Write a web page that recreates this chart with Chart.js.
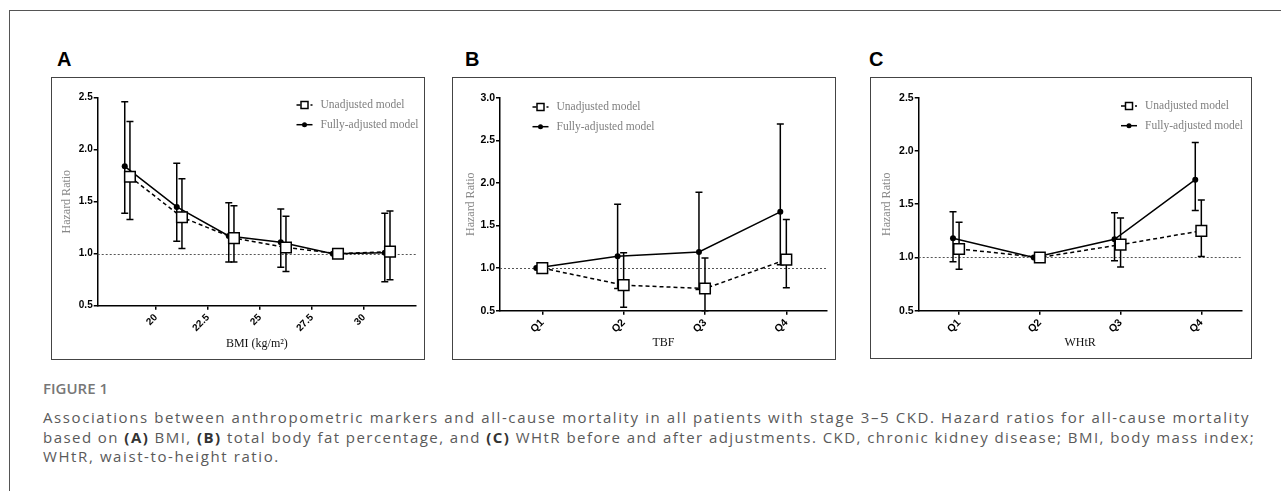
<!DOCTYPE html>
<html>
<head>
<meta charset="utf-8">
<script src="https://cdn.jsdelivr.net/npm/chart.js@4.4.1/dist/chart.umd.min.js"></script>
<style>
  body { margin: 0; background: #fff; }
  #page { position: relative; width: 1281px; height: 491px; overflow: hidden; background: #fff; }
  #frame { position: absolute; left: 9px; top: 10px; width: 1300px; height: 500px;
           border-top: 1.5px solid #555; border-left: 1.5px solid #555; }
  canvas { position: absolute; }
  .box { position: absolute; border: 1px solid #444; box-sizing: border-box; pointer-events: none; }
  .lbl { position: absolute; font: bold 20px "Liberation Sans", Arial, sans-serif; color: #000; line-height: 20px; }
  #figno { position: absolute; left: 43px; top: 379px; font: 600 15px "Open Sans", sans-serif; color: #777; line-height: 18px; }
  #caption { position: absolute; left: 43px; top: 408px; font: 15px "Open Sans", sans-serif; color: #5a5a5a;
             line-height: 19.5px; white-space: nowrap; }
  #caption span { display: block; }
  #caption b { color: #333; font-weight: 700; }
</style>
</head>
<body>
<div id="page">
  <div id="frame"></div>

  <div class="lbl" style="left:57px; top:49px;">A</div>
  <div class="lbl" style="left:465px; top:49px;">B</div>
  <div class="lbl" style="left:869px; top:49px;">C</div>

  <canvas id="chartA" width="374" height="283" style="left:51px; top:77px;"></canvas>
  <canvas id="chartB" width="384" height="283" style="left:452px; top:77px;"></canvas>
  <canvas id="chartC" width="382" height="282" style="left:870px; top:77px;"></canvas>
  <div class="box" style="left:51px; top:77px; width:374px; height:283px;"></div>
  <div class="box" style="left:452px; top:77px; width:384px; height:283px;"></div>
  <div class="box" style="left:870px; top:77px; width:382px; height:282px;"></div>

  <div id="figno">FIGURE 1</div>
  <div id="caption"><span data-w="1207">Associations between anthropometric markers and all-cause mortality in all patients with stage 3–5 CKD. Hazard ratios for all-cause mortality</span><span data-w="1212">based on <b>(A)</b> BMI, <b>(B)</b> total body fat percentage, and <b>(C)</b> WHtR before and after adjustments. CKD, chronic kidney disease; BMI, body mass index;</span><span>WHtR, waist-to-height ratio.</span></div>
</div>

<script>
// Panel A - BMI
var bmiGroups = [18.5, 21, 23.5, 26, 28.5, 31];
var bmiTicks = [20, 22.5, 25, 27.5, 30];
var bmiUnadj = [1.74, 1.35, 1.15, 1.06, 1.00, 1.02];
var bmiUnadjLo = [1.33, 1.05, 0.92, 0.83, null, 0.75];
var bmiUnadjHi = [2.27, 1.72, 1.46, 1.36, null, 1.41];
var bmiFull = [1.84, 1.45, 1.17, 1.11, 1.00, 1.01];
var bmiFullLo = [1.39, 1.12, 0.92, 0.87, null, 0.73];
var bmiFullHi = [2.46, 1.87, 1.49, 1.43, null, 1.39];

// Panel B - TBF quartiles
var quartiles = ['Q1', 'Q2', 'Q3', 'Q4'];
var tbfUnadj = [1.00, 0.80, 0.76, 1.10];
var tbfUnadjLo = [null, 0.54, 0.50, 0.77];
var tbfUnadjHi = [null, 1.18, 1.12, 1.57];
var tbfFull = [1.00, 1.14, 1.19, 1.66];
var tbfFullLo = [null, 0.76, 0.75, 1.04];
var tbfFullHi = [null, 1.75, 1.89, 2.69];

// Panel C - WHtR quartiles
var whtrUnadj = [1.08, 1.00, 1.12, 1.25];
var whtrUnadjLo = [0.89, null, 0.91, 1.01];
var whtrUnadjHi = [1.33, null, 1.37, 1.54];
var whtrFull = [1.18, 1.00, 1.17, 1.73];
var whtrFullLo = [0.96, null, 0.97, 1.44];
var whtrFullHi = [1.43, null, 1.42, 2.08];

var yTicksA = [0.5, 1.0, 1.5, 2.0, 2.5];
var yTicksB = [0.5, 1.0, 1.5, 2.0, 2.5, 3.0];
var yTicksC = [0.5, 1.0, 1.5, 2.0, 2.5];
var refHR = 1.0;

var serifFont = { family: '"Liberation Serif", "Times New Roman", serif', size: 12 };

// stretch caption lines to the widths of the original
document.querySelectorAll('#caption span[data-w]').forEach(function (s) {
  s.style.display = 'inline-block';
  var w = s.getBoundingClientRect().width;
  var n = s.textContent.length;
  s.style.letterSpacing = ((+s.dataset.w - w) / n) + 'px';
  s.style.display = 'block';
});
document.querySelector('#caption span:last-child').style.letterSpacing =
  document.querySelector('#caption span').style.letterSpacing;

// error bars + reference line, drawn under the points; legend on top
var errorBars = {
  id: 'errorBars',
  beforeDatasetsDraw: function (chart) {
    var c = chart.ctx, xs = chart.scales.x, ys = chart.scales.y, a = chart.chartArea;
    c.save();
    c.strokeStyle = '#555';
    c.lineWidth = 1;
    c.setLineDash([2, 2]);
    var yr = Math.round(ys.getPixelForValue(refHR)) + 0.5;
    c.beginPath(); c.moveTo(a.left, yr); c.lineTo(a.right, yr); c.stroke();
    c.setLineDash([]);
    c.strokeStyle = '#000';
    c.lineWidth = 1.5;
    chart.data.datasets.forEach(function (ds) {
      ds.data.forEach(function (pt, i) {
        if (ds.lo[i] == null) return;
        var x = xs.getPixelForValue(pt.x);
        var y1 = ys.getPixelForValue(ds.lo[i]);
        var y2 = ys.getPixelForValue(ds.hi[i]);
        c.beginPath();
        c.moveTo(x, y1); c.lineTo(x, y2);
        c.moveTo(x - 3.5, y1); c.lineTo(x + 3.5, y1);
        c.moveTo(x - 3.5, y2); c.lineTo(x + 3.5, y2);
        c.stroke();
      });
    });
    c.restore();
  },
  afterDraw: function (chart) {
    var lg = chart.options.plugins.errorBars.legend;
    var c = chart.ctx;
    c.save();
    chart.data.datasets.forEach(function (ds, i) {
      var y = lg.y + i * 19.7;
      c.strokeStyle = '#000';
      c.lineWidth = 1.5;
      c.setLineDash(ds.borderDash || []);
      c.beginPath(); c.moveTo(lg.x - 8, y); c.lineTo(lg.x + 8, y); c.stroke();
      c.setLineDash([]);
      if (ds.pointStyle === 'rect') {
        c.fillStyle = '#fff';
        c.fillRect(lg.x - 3.5, y - 3.5, 7, 7);
        c.strokeRect(lg.x - 3.5, y - 3.5, 7, 7);
      } else {
        c.fillStyle = '#000';
        c.beginPath(); c.arc(lg.x, y, 2.5, 0, Math.PI * 2); c.fill();
      }
      c.fillStyle = '#808080';
      c.font = '11.5px "Liberation Serif", "Times New Roman", serif';
      c.textBaseline = 'middle';
      c.fillText(ds.label, lg.x + 16, y);
    });
    c.restore();
  }
};

function pts(xs, ys, dodge) {
  return xs.map(function (x, i) { return { x: x + dodge, y: ys[i] }; });
}

function makePanel(id, p) {
  var ctx = document.getElementById(id).getContext('2d');
  var tickFont = { family: '"Liberation Sans", Arial, sans-serif', size: p.tickSize, weight: 'bold' };
  return new Chart(ctx, {
    type: 'line',
    data: {
      datasets: [{
        label: 'Unadjusted model',
        data: pts(p.x, p.unadj, p.dodgeUnadj),
        lo: p.unadjLo, hi: p.unadjHi,
        borderColor: '#000', borderWidth: 1.5, borderDash: [4, 3],
        pointStyle: 'rect', pointRadius: 7.5,
        pointBackgroundColor: '#fff', pointBorderColor: '#000', pointBorderWidth: 1.5
      }, {
        label: 'Fully-adjusted model',
        data: pts(p.x, p.full, p.dodgeFull),
        lo: p.fullLo, hi: p.fullHi,
        borderColor: '#000', borderWidth: 1.5,
        pointStyle: 'circle', pointRadius: 3,
        pointBackgroundColor: '#000', pointBorderColor: '#000', pointBorderWidth: 0
      }]
    },
    options: {
      responsive: false,
      animation: false,
      devicePixelRatio: 1,
      layout: { padding: { left: 0, top: 20.7, right: p.padRight, bottom: 0 } },
      plugins: {
        legend: { display: false },
        tooltip: { enabled: false },
        errorBars: { legend: p.legend }
      },
      scales: {
        x: {
          type: 'linear', min: p.xMin, max: p.xMax,
          afterBuildTicks: function (s) { s.ticks = p.xTicks.map(function (v) { return { value: v }; }); },
          afterFit: function (s) { s.height = p.xAxisH; },
          ticks: {
            autoSkip: false, maxRotation: 45, minRotation: 45, padding: 2,
            color: '#000', font: tickFont,
            callback: function (v, i) { return p.xLabels[i]; }
          },
          grid: { drawOnChartArea: false, drawTicks: true, tickLength: 4, color: '#000', lineWidth: 1.5 },
          border: { display: true, color: '#000', width: 1.5 },
          title: { display: true, text: p.xTitle, color: '#111', font: serifFont, padding: { top: 0, bottom: p.xTitlePad } }
        },
        y: {
          min: 0.5, max: p.yMax,
          afterBuildTicks: function (s) { s.ticks = p.yTicks.map(function (v) { return { value: v }; }); },
          afterFit: function (s) { s.width = p.yAxisW; },
          ticks: {
            padding: 1, color: '#000', font: tickFont,
            callback: function (v) { return v.toFixed(1); }
          },
          grid: { drawOnChartArea: false, drawTicks: true, tickLength: 4, color: '#000', lineWidth: 1.5 },
          border: { display: true, color: '#000', width: 1.5 },
          title: { display: true, text: 'Hazard Ratio', color: '#888', font: serifFont, padding: { top: p.yTitlePad, bottom: 0 } }
        }
      }
    },
    plugins: [errorBars]
  });
}

makePanel('chartA', {
  x: bmiGroups, xMin: 17.2, xMax: 32.5, xTicks: bmiTicks,
  xLabels: bmiTicks.map(String), xTitle: 'BMI (kg/m²)',
  unadj: bmiUnadj, unadjLo: bmiUnadjLo, unadjHi: bmiUnadjHi,
  full: bmiFull, fullLo: bmiFullLo, fullHi: bmiFullHi,
  dodgeUnadj: 0.25, dodgeFull: 0,
  yMax: 2.5, yTicks: yTicksA, tickSize: 10,
  yAxisW: 46.7, xAxisH: 54.3, padRight: 8.3, xTitlePad: 8.8, yTitlePad: 8.5,
  legend: { x: 253.5, y: 28 }
});

makePanel('chartB', {
  x: [1, 2, 3, 4], xMin: 0.48, xMax: 4.5, xTicks: [1, 2, 3, 4],
  xLabels: quartiles, xTitle: 'TBF',
  unadj: tbfUnadj, unadjLo: tbfUnadjLo, unadjHi: tbfUnadjHi,
  full: tbfFull, fullLo: tbfFullLo, fullHi: tbfFullHi,
  dodgeUnadj: 0, dodgeFull: -0.074,
  yMax: 3.0, yTicks: yTicksB, tickSize: 10.5,
  yAxisW: 48, xAxisH: 49.3, padRight: 8.7, xTitlePad: 9.8, yTitlePad: 11.5,
  legend: { x: 88.5, y: 30 }
});

makePanel('chartC', {
  x: [1, 2, 3, 4], xMin: 0.5, xMax: 4.5, xTicks: [1, 2, 3, 4],
  xLabels: quartiles, xTitle: 'WHtR',
  unadj: whtrUnadj, unadjLo: whtrUnadjLo, unadjHi: whtrUnadjHi,
  full: whtrFull, fullLo: whtrFullLo, fullHi: whtrFullHi,
  dodgeUnadj: 0, dodgeFull: -0.075,
  yMax: 2.5, yTicks: yTicksC, tickSize: 10.5,
  yAxisW: 48.7, xAxisH: 48.3, padRight: 10.3, xTitlePad: 9.1, yTitlePad: 10.1,
  legend: { x: 259, y: 29 }
});
</script>
</body>
</html>
